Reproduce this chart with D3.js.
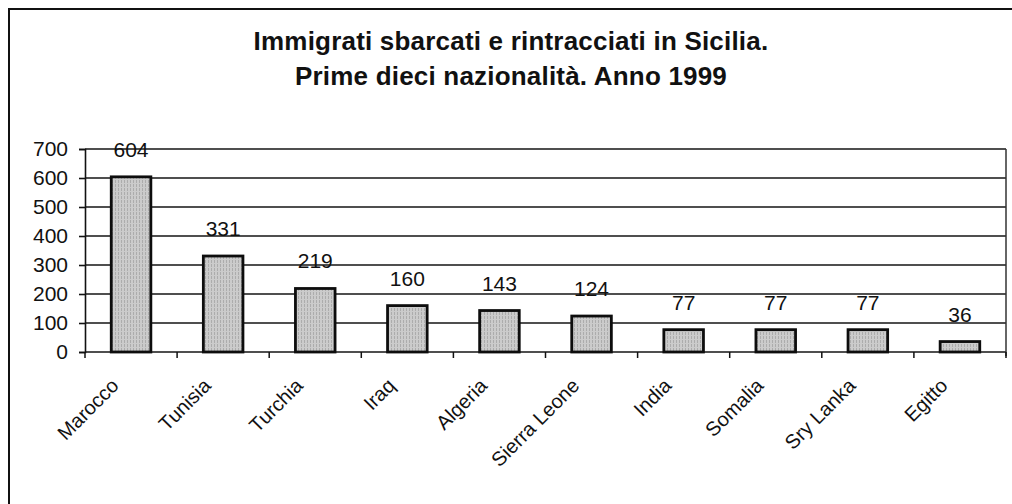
<!DOCTYPE html>
<html>
<head>
<meta charset="utf-8">
<script src="https://cdn.jsdelivr.net/npm/d3@7"></script>
<style>
  html, body { margin: 0; padding: 0; background: #fff; }
  svg { display: block; font-family: "Liberation Sans", Arial, sans-serif; }
</style>
</head>
<body>
<div id="app"></div>
<script>
// data
const countries = ['Marocco', 'Tunisia', 'Turchia', 'Iraq', 'Algeria',
                   'Sierra Leone', 'India', 'Somalia', 'Sry Lanka', 'Egitto'];
const immigrati = [604, 331, 219, 160, 143, 124, 77, 77, 77, 36];
const yTicks = [0, 100, 200, 300, 400, 500, 600, 700];
const titleLines = ['Immigrati sbarcati e rintracciati in Sicilia.',
                    'Prime dieci nazionalità. Anno 1999'];

(() => {
  const WIDTH = 1012, HEIGHT = 504;
  const plot = { left: 85, right: 1006, top: 149, bottom: 352 };

  const svg = d3.select('#app').append('svg')
    .attr('width', WIDTH).attr('height', HEIGHT)
    .attr('viewBox', [0, 0, WIDTH, HEIGHT]);

  // grainy fill like the scanned bars
  const pat = svg.append('defs').append('pattern')
    .attr('id', 'grain')
    .attr('patternUnits', 'userSpaceOnUse')
    .attr('width', 3).attr('height', 4);
  pat.append('rect').attr('width', 3).attr('height', 4).attr('fill', '#cbcbcb');
  pat.append('rect').attr('x', 1).attr('width', 1).attr('height', 3).attr('fill', '#acacac');

  // outer frame (right/bottom run off the scan)
  svg.append('rect')
    .attr('x', 9).attr('y', 9)
    .attr('width', WIDTH + 20).attr('height', HEIGHT + 20)
    .attr('fill', 'none').attr('stroke', '#111').attr('stroke-width', 2);

  // title
  svg.append('g').selectAll('text')
    .data(titleLines)
    .join('text')
    .attr('x', 511)
    .attr('y', (d, i) => 50 + i * 35)
    .attr('text-anchor', 'middle')
    .attr('font-size', 26)
    .attr('font-weight', 'bold')
    .attr('letter-spacing', 0.2)
    .attr('fill', '#111')
    .text(d => d);

  const x = d3.scaleBand()
    .domain(countries)
    .range([plot.left, plot.right])
    .paddingInner(0.57)
    .paddingOuter(0.285);

  const y = d3.scaleLinear()
    .domain([0, 700])
    .range([plot.bottom, plot.top]);

  // gridlines
  svg.append('g')
    .selectAll('line')
    .data(yTicks)
    .join('line')
    .attr('x1', plot.left).attr('x2', plot.right)
    .attr('y1', d => y(d)).attr('y2', d => y(d))
    .attr('stroke', '#151515').attr('stroke-width', 1.7);

  // right border of plot area
  svg.append('line')
    .attr('x1', plot.right).attr('x2', plot.right)
    .attr('y1', plot.top).attr('y2', plot.bottom + 4)
    .attr('stroke', '#333').attr('stroke-width', 1.5);

  // y axis
  const yAxis = svg.append('g')
    .attr('transform', `translate(${plot.left},0)`)
    .call(d3.axisLeft(y).tickValues(yTicks).tickSize(6).tickPadding(11).tickFormat(d3.format('d')));
  yAxis.select('.domain').attr('stroke', '#111').attr('stroke-width', 1.6);
  yAxis.selectAll('.tick line').attr('stroke', '#111').attr('stroke-width', 1.6);
  yAxis.selectAll('.tick text')
    .attr('font-size', 21).attr('fill', '#111')
    .attr('font-family', '"Liberation Sans", Arial, sans-serif');

  // x axis ticks between categories
  const step = x.step();
  const bounds = d3.range(countries.length + 1).map(i => plot.left + i * step);
  svg.append('g')
    .selectAll('line')
    .data(bounds)
    .join('line')
    .attr('x1', d => d).attr('x2', d => d)
    .attr('y1', plot.bottom).attr('y2', plot.bottom + 6)
    .attr('stroke', '#111').attr('stroke-width', 1.5);

  // bars
  svg.append('g')
    .selectAll('rect')
    .data(immigrati)
    .join('rect')
    .attr('x', (d, i) => x(countries[i]))
    .attr('y', d => y(d))
    .attr('width', x.bandwidth())
    .attr('height', d => y(0) - y(d))
    .attr('fill', 'url(#grain)')
    .attr('stroke', '#0d0d0d')
    .attr('stroke-width', 2.8);

  // value labels
  svg.append('g')
    .selectAll('text')
    .data(immigrati)
    .join('text')
    .attr('x', (d, i) => x(countries[i]) + x.bandwidth() / 2)
    .attr('y', d => y(d) - 20)
    .attr('text-anchor', 'middle')
    .attr('font-size', 21)
    .attr('fill', '#111')
    .text(d => d);

  // category labels, rotated
  svg.append('g')
    .selectAll('text')
    .data(countries)
    .join('text')
    .attr('transform', d => `translate(${x(d) + x.bandwidth() / 2 - 16},${plot.bottom + 30}) rotate(-45)`)
    .attr('text-anchor', 'end')
    .attr('dy', '0.35em')
    .attr('font-size', 20)
    .attr('fill', '#111')
    .text(d => d);
})();
</script>
</body>
</html>
